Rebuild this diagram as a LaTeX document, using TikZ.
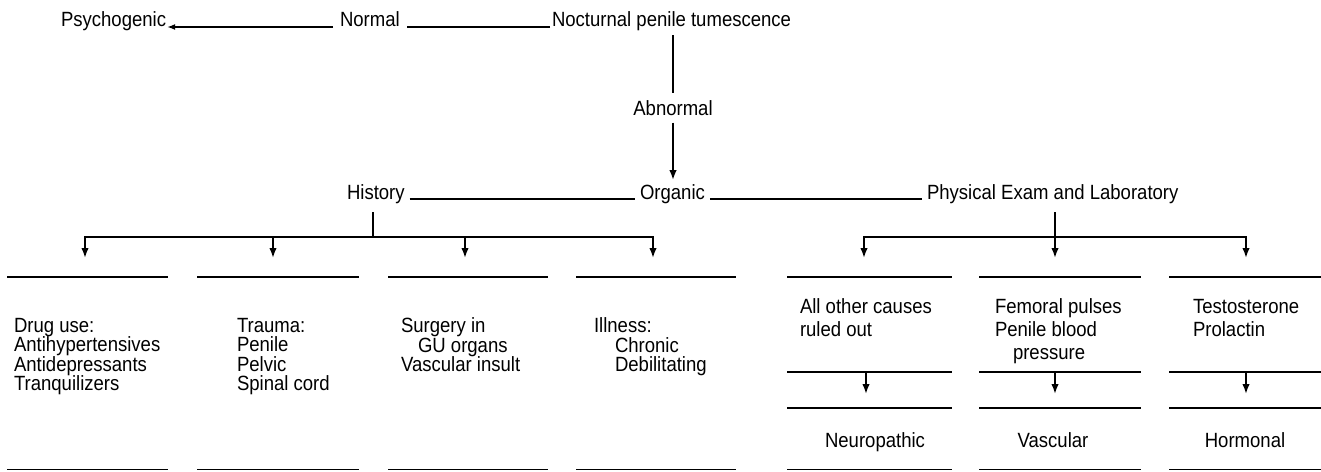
\documentclass[tikz,border=0pt]{standalone}
\usepackage{fontspec}
\setmainfont{Liberation Sans}[FakeStretch=0.9]
\usetikzlibrary{arrows.meta,calc}
\begin{document}
\begin{tikzpicture}[x=1pt,y=-1pt,
  txt/.style={inner sep=0pt,outer sep=0pt,font=\fontsize{20.6}{19.5}\selectfont},
  blk/.style={txt,anchor=north west,align=left},
  rblk/.style={blk,font=\fontsize{20.6}{23}\selectfont},
  ln/.style={line width=1.8pt},
  arr/.style={line width=1.8pt,-{Latex[length=10pt,width=7.5pt]}},
  sarr/.style={line width=1.8pt,-{Latex[length=8pt,width=6pt]}},
]
\useasboundingbox[fill=white] (0,0) rectangle (1321,471);

% top row
\node[txt,anchor=base west] (psy) at (61,27) {Psychogenic};
\node[txt,anchor=base west] (nor) at (340,27) {Normal};
\node[txt,anchor=base west] (npt) at (552,27) {Nocturnal penile tumescence};
\draw[sarr] ([xshift=-7pt]nor.base west) -- ([xshift=1pt]psy.base east);
\draw[ln] ([xshift=-2pt]npt.base west) -- ([xshift=7pt]nor.base east);

\node[txt] (abn) at (673,108) {Abnormal};
\draw[ln] ([yshift=-8pt]npt.base -| abn.north) -- ([yshift=7pt]abn.north);

% organic row
\node[txt,anchor=base west] (his) at (347,199) {History};
\node[txt,anchor=base west] (org) at (640,199) {Organic};
\node[txt,anchor=base west] (phy) at (927,199) {Physical Exam and Laboratory};
\draw[arr] ([yshift=-7pt]abn.south) -- ([yshift=4pt]abn.south |- org.north);
\draw[ln] ([xshift=5pt]his.base east) -- ([xshift=-5pt]org.base west);
\draw[ln] ([xshift=5pt]org.base east) -- ([xshift=-5pt]phy.base west);

% segment reference points
\coordinate (t1) at (85,277);
\coordinate (t2) at (273,277);
\coordinate (t3) at (465,277);
\coordinate (t4) at (653,277);
\coordinate (t5) at (864,277);
\coordinate (t6) at (1055,277);
\coordinate (t7) at (1246,277);
\coordinate (hb) at (373,237);
\coordinate (pb) at (1055,237);

% history bus
\draw[ln] ([yshift=-13pt]his.base -| hb) -- (hb);
\draw[arr] (hb) -| ([yshift=19pt]t1);
\draw[arr] (hb) -| ([yshift=19pt]t4);
\draw[arr] (hb -| t2) -- ([yshift=19pt]t2);
\draw[arr] (hb -| t3) -- ([yshift=19pt]t3);

% physical bus
\draw[arr] ([yshift=-13pt]phy.base -| pb) -- ([yshift=19pt]t6);
\draw[arr] (pb) -| ([yshift=19pt]t5);
\draw[arr] (pb) -| ([yshift=19pt]t7);

% rules
\foreach \a/\b in {7/168,197/359,388/548,576/736,787/952,979/1141,1169/1321}{
  \draw[ln] (\a,277) -- (\b,277);
  \draw[ln] (\a,469.5) -- (\b,469.5);
}
\foreach \a/\b in {787/952,979/1141,1169/1321}{
  \draw[ln] (\a,372) -- (\b,372);
  \draw[ln] (\a,408) -- (\b,408);
}

% history text blocks
\node[blk] (drug) at (14,318) {Drug use:\\Antihypertensives\\Antidepressants\\Tranquilizers};
\node[blk] (trau) at (237,318) {Trauma:\\Penile\\Pelvic\\Spinal cord};
\node[blk] (surg) at (401,318) {Surgery in\\\hspace*{17pt}GU organs\\Vascular insult};
\node[blk] (ill) at (594,318) {Illness:\\\hspace*{21pt}Chronic\\\hspace*{21pt}Debilitating};

% physical text blocks
\node[rblk] (oth) at (800,299) {All other causes\\ruled out};
\node[rblk] (fem) at (995,299) {Femoral pulses\\Penile blood\\\hspace*{18pt}pressure};
\node[rblk] (tes) at (1193,299) {Testosterone\\Prolactin};

\coordinate (m5) at (866,372);
\coordinate (m6) at (1055,372);
\coordinate (m7) at (1246,372);
\draw[arr] (m5) -- ++(0,22);
\draw[arr] (m6) -- ++(0,22);
\draw[arr] (m7) -- ++(0,22);

\node[txt,anchor=base] (neu) at (875,447) {Neuropathic};
\node[txt,anchor=base] (vas) at (1053,447) {Vascular};
\node[txt,anchor=base] (hor) at (1245,447) {Hormonal};
\end{tikzpicture}
\end{document}
